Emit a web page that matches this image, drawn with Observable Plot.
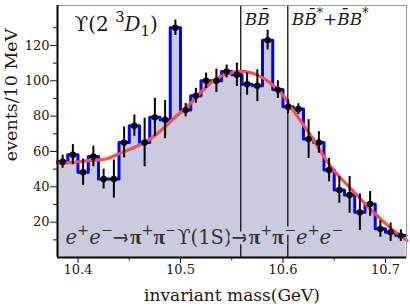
<!DOCTYPE html>
<html><head><meta charset="utf-8">
<script src="https://cdn.jsdelivr.net/npm/d3@7"></script>
<script src="https://cdn.jsdelivr.net/npm/@observablehq/plot@0.6"></script>
<style>html,body{margin:0;padding:0;background:#fff}svg{display:block}</style>
</head><body><div id="chart"></div>
<script>
// ---- data ----
const binCenters = [10.385,10.395,10.405,10.415,10.425,10.435,10.445,10.455,10.465,10.475,10.485,10.495,10.505,10.515,10.525,10.535,10.545,10.555,10.565,10.575,10.585,10.595,10.605,10.615,10.625,10.635,10.645,10.655,10.665,10.675,10.685,10.695,10.705,10.715];
const counts = [54.2,58.2,48.2,57.2,44.4,44.4,65.1,74.6,65.1,79.3,78,130,83.4,91.5,100,100,105.3,103.4,98.1,97.2,123,95,85.3,84,67,65.1,49.5,38.2,35.4,25.6,30.3,16.2,14.3,12.4];
const errors = [3.7,5.7,7.5,5.8,5.6,10.8,8.7,6,13.7,10.8,10.8,4.4,3.8,4.2,4.4,6.6,3.6,6.6,6.3,9,5.6,5,4,3,11,6.1,6.6,7.5,10.4,10.4,7,4.7,5.2,3.3];
const fitMass = [10.380,10.395,10.410,10.427,10.443,10.465,10.485,10.495,10.505,10.515,10.525,10.535,10.545,10.560,10.575,10.587,10.599,10.606,10.626,10.646,10.665,10.685,10.706,10.721];
const fitEvents = [53.3,53.8,54.8,55.7,59.5,65.1,74.0,79.5,84.5,90.5,96.5,101,103.8,105.3,103.2,99,92.5,86.5,69.9,52,39.7,27.5,16.2,9.6];
const thresholds = [10.5588, 10.6047];
const xTicks = [10.4, 10.5, 10.6, 10.7];
const xMinorTicks = [10.45, 10.55, 10.65];
const yTicks = [20, 40, 60, 80, 100, 120];
const yMinorTicks = [10, 30, 50, 70, 90, 110, 130];
const binWidth = 0.01;
const xLabel = "invariant mass(GeV)";
const yLabel = "events/10 MeV";
// rich-text labels: [text, style]
const stateLabel = [["ϒ(2 ",""],["3","sup"],["D","i"],["1","sub"],[")",""]];
const bbLabel = [["B","i"],["B\u0304","i"]];
const bbStarLabel = [["B","i"],["B\u0304","i"],["*","sup"],["+",""],["B\u0304","i"],["B","i"],["*","sup"]];
const procLabel = [["e","i"],["+","sup"],["e","i"],["−","sup"],["→","a"],["π","p"],["+","sup"],["π","p"],["−","sup"],["ϒ(1S)",""],["→","a"],["π","p"],["+","sup"],["π","p"],["−","sup"],["e","i"],["+","sup"],["e","i"],["−","sup"]];

// ---- derived tables ----
const steps = binCenters.map((c, i) => ({x: c - binWidth / 2, y: counts[i]}));
steps.push({x: binCenters[binCenters.length - 1] + binWidth / 2, y: counts[counts.length - 1]});
const points = binCenters.map((c, i) => ({x: c, y: counts[i], lo: counts[i] - errors[i], hi: counts[i] + errors[i]}));
const fit = fitMass.map((m, i) => ({x: m, y: fitEvents[i]}));
const plain = parts => parts.map(p => p[0]).join("");

const LAV = "#cbcbe0";
const FONT = "'DejaVu Serif', serif";
const X0 = 10.38, X1 = 10.7205, Y1 = 142.6;

const plot = Plot.plot({
  width: 410, height: 307,
  marginLeft: 57, marginRight: 4, marginTop: 5, marginBottom: 50,
  style: {fontFamily: FONT, fontSize: "13px", background: "white", color: "#1a1a1a"},
  x: {domain: [X0, X1], label: null},
  y: {domain: [0, Y1], label: null},
  marks: [
    Plot.areaY(steps, {x: "x", y: "y", curve: "step-after", fill: LAV}),
    Plot.line(steps, {x: "x", y: "y", curve: "step-after", stroke: "#0000ff", strokeWidth: 3}),
    Plot.ruleX(thresholds, {stroke: "black", strokeWidth: 1.2}),
    Plot.text([plain(procLabel)], {frameAnchor: "bottom-left", dx: 8, dy: -14, lineAnchor: "bottom", textAnchor: "start", fontSize: 19.5, fill: "#333", stroke: LAV, strokeWidth: 7}),
    Plot.line(fit, {x: "x", y: "y", curve: "natural", stroke: "#ff4d4d", strokeWidth: 3.2}),
    Plot.ruleX(points, {x: "x", y1: "lo", y2: "hi", stroke: "black", strokeWidth: 2}),
    Plot.dot(points, {x: "x", y: "y", r: 3.2, fill: "black"}),
    Plot.ruleY([Y1], {stroke: "#999", strokeWidth: 1}),
    Plot.ruleX([X1], {stroke: "#999", strokeWidth: 1}),
    Plot.ruleX([X0], {stroke: "black", strokeWidth: 2}),
    Plot.ruleY([0], {stroke: "black", strokeWidth: 2}),
    Plot.axisX(xTicks, {tickSize: 6, tickPadding: 1.5, fontSize: 13, label: null, tickFormat: d => d.toFixed(1)}),
    Plot.axisX(xMinorTicks, {tickSize: 3.5, tickFormat: () => "", label: null}),
    Plot.axisY(yTicks, {tickSize: 7, tickPadding: 1, fontSize: 13, label: null}),
    Plot.axisY(yMinorTicks, {tickSize: 4, tickFormat: () => "", label: null}),
    Plot.text([plain(stateLabel)], {frameAnchor: "top-left", dx: 17, dy: 25, lineAnchor: "bottom", textAnchor: "start", fontSize: 20, fill: "#1a1a1a"}),
    Plot.text([thresholds[0]], {x: d => d, frameAnchor: "top", dx: 4, dy: 19, lineAnchor: "bottom", textAnchor: "start", text: () => plain(bbLabel), fontSize: 17, fill: "#1a1a1a"}),
    Plot.text([thresholds[1]], {x: d => d, frameAnchor: "top", dx: 4, dy: 19, lineAnchor: "bottom", textAnchor: "start", text: () => plain(bbStarLabel), fontSize: 17, fill: "#1a1a1a"}),
    Plot.text([xLabel], {frameAnchor: "bottom", dy: 43, lineAnchor: "bottom", fontSize: 17, fill: "#1a1a1a"}),
    Plot.text([yLabel], {x: () => 10.3405, y: () => 92, rotate: -90, lineAnchor: "bottom", fontSize: 17.5, fill: "#1a1a1a"})
  ]
});

function rich(parts, fs) {
  const key = plain(parts);
  d3.select(plot).selectAll("text").filter(function () { return this.textContent === key; }).each(function () {
    const el = this;
    el.textContent = "";
    let shift = 0;
    for (const [s, st] of parts) {
      const t = document.createElementNS("http://www.w3.org/2000/svg", "tspan");
      const tok = st.split(" ");
      let target = 0;
      if (tok.includes("sup")) target = -0.42 * fs;
      else if (tok.includes("sub")) target = 0.28 * fs;
      const dy = target - shift; shift = target;
      if (dy) t.setAttribute("dy", dy);
      if (tok.includes("i")) t.setAttribute("font-style", "italic");
      if (tok.includes("p")) { t.setAttribute("font-family", "'Liberation Serif', serif"); t.setAttribute("font-weight", "bold"); t.setAttribute("font-size", 1.08 * fs); }
      if (tok.includes("a")) { t.setAttribute("font-family", "'DejaVu Sans', sans-serif"); t.setAttribute("font-size", 1.05 * fs); }
      if (tok.includes("sup") || tok.includes("sub")) t.setAttribute("font-size", 0.74 * fs);
      t.textContent = s;
      el.appendChild(t);
    }
  });
}
rich(stateLabel, 20);
rich(bbLabel, 17);
rich(bbStarLabel, 17);
rich(procLabel, 19.5);

document.getElementById("chart").appendChild(plot);
</script>
</body></html>
